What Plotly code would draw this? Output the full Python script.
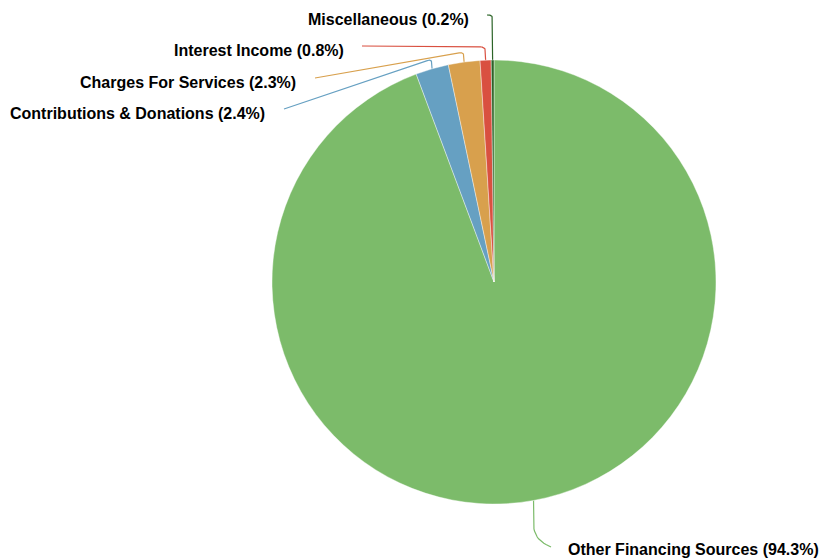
import numpy as np
import plotly.graph_objects as go

# ---- data ----
categories = ["Other Financing Sources", "Contributions & Donations",
              "Charges For Services", "Interest Income", "Miscellaneous"]
values = [94.3, 2.4, 2.3, 0.8, 0.2]
colors = ["#7CBB6A", "#66A0C2", "#D8A04D", "#D95040", "#2C6428"]

# ---- layout (pixels) ----
W, H = 822, 558
CX, CY, R = 494, 282, 222

# label placement per category: label x, label y, anchor, corner y, line end x, line end y, corner radius
label_layout = [
    (566, 549, "left", 538, 551, 547, 14),
    (267, 113, "right", 59, 284, 109, 5),
    (298, 82, "right", 52, 315, 78, 5),
    (346, 50, "right", 47, 362, 46, 5),
    (471, 19.5, "right", 15, 487, 15, 4),
]

fig = go.Figure()

fig.add_trace(go.Pie(
    labels=categories, values=values, sort=False, direction="clockwise",
    rotation=0, textinfo="none", hoverinfo="label+percent",
    marker=dict(colors=colors, line=dict(color="white", width=0.4)),
    domain=dict(x=[(CX - R) / W, (CX + R) / W], y=[1 - (CY + R) / H, 1 - (CY - R) / H]),
    showlegend=False,
))

total = sum(values)
cum = 0.0
annotations = []
for cat, val, col, lay in zip(categories, values, colors, label_layout):
    lx, ly, anc, cy_, ex_, ey_, rad = lay
    mid = (cum + val / 2) / total * 2 * np.pi
    cum += val
    px = CX + R * np.sin(mid)
    py = CY - R * np.cos(mid)
    C = np.array([px, cy_])
    P0 = np.array([px, py])
    E = np.array([ex_, ey_])
    uin = (C - P0) / np.linalg.norm(C - P0)
    uout = (E - C) / np.linalg.norm(E - C)
    r = min(rad, np.linalg.norm(C - P0) * 0.8, np.linalg.norm(E - C) * 0.8)
    A = C - r * uin
    B = C + r * uout
    t = np.linspace(0, 1, 12)[:, None]
    curve = (1 - t) ** 2 * A + 2 * (1 - t) * t * C + t ** 2 * B
    pts = np.vstack([P0, curve, E])
    fig.add_trace(go.Scatter(
        x=pts[:, 0], y=pts[:, 1], mode="lines",
        line=dict(color=col, width=1.2), hoverinfo="skip", showlegend=False,
        xaxis="x", yaxis="y",
    ))
    pct = val / total * 100
    annotations.append(dict(
        x=lx, y=ly, xref="x", yref="y", xanchor=anc, yanchor="middle",
        text=f"<b>{cat} ({pct:.1f}%)</b>", showarrow=False,
        font=dict(family="Liberation Sans, Arial, sans-serif", size=16, color="#000000"),
    ))

fig.update_layout(
    width=W, height=H, margin=dict(l=0, r=0, t=0, b=0),
    paper_bgcolor="white", plot_bgcolor="rgba(0,0,0,0)",
    xaxis=dict(range=[0, W], visible=False, fixedrange=True, domain=[0, 1]),
    yaxis=dict(range=[H, 0], visible=False, fixedrange=True, domain=[0, 1]),
    annotations=annotations,
    showlegend=False,
)

fig.write_html("out.html", config={"displayModeBar": False},
               post_script="document.body.style.margin='0';")
